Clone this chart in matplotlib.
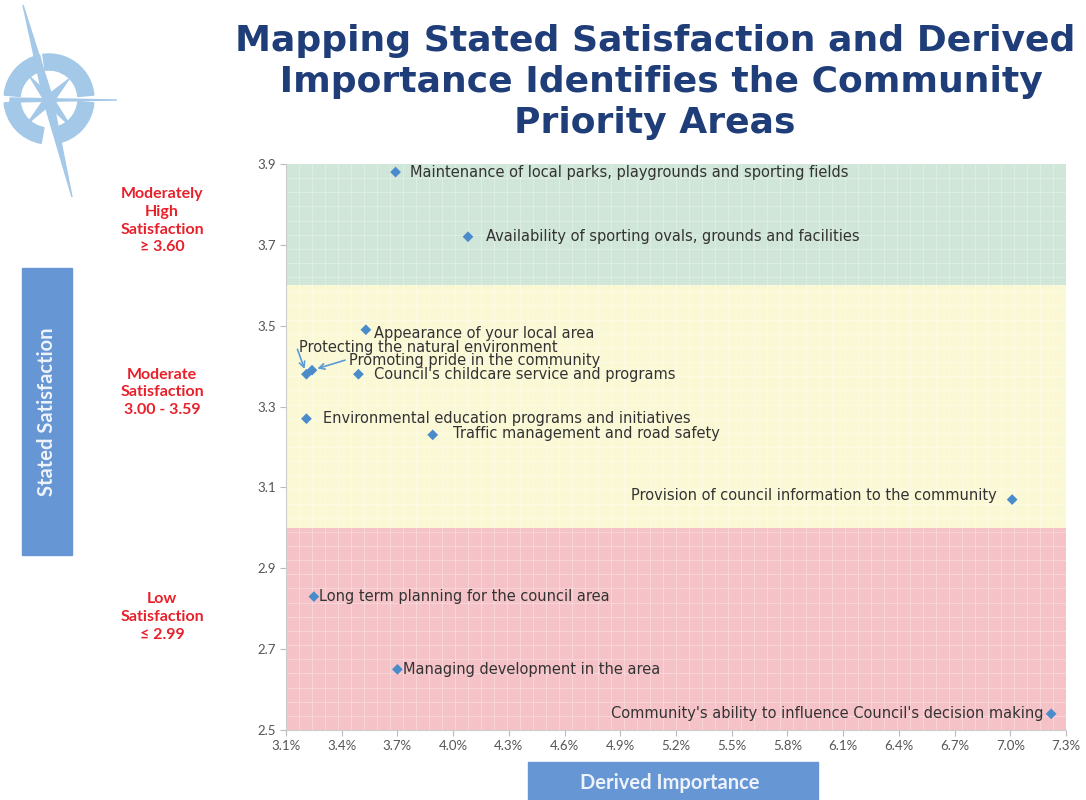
import numpy as np
import matplotlib
matplotlib.use("Agg")
import matplotlib.pyplot as plt
from matplotlib.patches import Rectangle, Wedge, Polygon

# ---- data --------------------------------------------------------------------
labels = [
    "Maintenance of local parks, playgrounds and sporting fields",
    "Availability of sporting ovals, grounds and facilities",
    "Appearance of your local area",
    "Protecting the natural environment",
    "Promoting pride in the community",
    "Council's childcare service and programs",
    "Environmental education programs and initiatives",
    "Traffic management and road safety",
    "Provision of council information to the community",
    "Long term planning for the council area",
    "Managing development in the area",
    "Community's ability to influence Council's decision making",
]
importance   = [3.69, 4.08, 3.53, 3.21, 3.24, 3.49, 3.21, 3.89, 7.01, 3.25, 3.70, 7.22]   # %
satisfaction = [3.88, 3.72, 3.49, 3.38, 3.39, 3.38, 3.27, 3.23, 3.07, 2.83, 2.65, 2.54]

x_ticks = [3.1, 3.4, 3.7, 4.0, 4.3, 4.6, 4.9, 5.2, 5.5, 5.8, 6.1, 6.4, 6.7, 7.0, 7.3]
y_ticks = [2.5, 2.7, 2.9, 3.1, 3.3, 3.5, 3.7, 3.9]

bands = [(3.6, 3.9, "#cfe6d8"), (3.0, 3.6, "#fbf8d6"), (2.5, 3.0, "#f5c3c7")]
band_text = ["Moderately\nHigh\nSatisfaction\n\u2265 3.60",
             "Moderate\nSatisfaction\n3.00 - 3.59",
             "Low\nSatisfaction\n\u2264 2.99"]
band_text_y = [3.76, 3.335, 2.78]

# label placement: (dx, dy in pixels, ha)
place = [(14, 0, "left"), (18, 0, "left"), (8, -4, "left"),
         (-7, 27, "left"), (37, 10, "left"), (16, 0, "left"),
         (17, 0, "left"), (20, 1, "left"), (-15, 4, "right"),
         (5, 0, "left"), (6, 0, "left"), (-8, 0, "right")]
# arrows for the two crowded points: (label index, start dx, dy in pixels)
arrows = [(3, -9, 25), (4, 33, 10)]

LBL = ["DejaVu Sans"]
FONT = ["Lato", "DejaVu Sans"]
NAVY = "#1f3d78"
RED = "#e8202a"
BOXBLUE = "#6696d4"

fig = plt.figure(figsize=(10.86, 8.0), dpi=100)
ax = fig.add_axes([286 / 1086, 1 - 730 / 800, 780 / 1086, 566 / 800])

for lo, hi, c in bands:
    ax.axhspan(lo, hi, color=c, zorder=0, lw=0)
# faint woven texture
for xv in np.arange(3.1, 7.3, 0.07):
    ax.axvline(xv, color="white", lw=0.6, alpha=0.35, zorder=1)
for yv in np.arange(2.5, 3.9, 0.035):
    ax.axhline(yv, color="white", lw=0.6, alpha=0.35, zorder=1)

ax.scatter(importance, satisfaction, marker="D", s=30, color="#4a8bcc",
           edgecolor="none", zorder=4)

for lab, xv, yv, (dx, dy, ha) in zip(labels, importance, satisfaction, place):
    ax.annotate(lab, (xv, yv), xytext=(dx, dy), textcoords="offset pixels",
                ha=ha, va="center", fontsize=10.5, color="#333333", family=LBL,
                zorder=5)
for i, dx, dy in arrows:
    ax.annotate("", (importance[i], satisfaction[i]), xytext=(dx, dy),
                textcoords="offset pixels", zorder=5,
                arrowprops=dict(arrowstyle="->", color="#5b9bd5", lw=1.2,
                                shrinkA=0, shrinkB=4))

ax.set_xlim(3.1, 7.3)
ax.set_ylim(2.5, 3.9)
ax.set_xticks(x_ticks)
ax.set_xticklabels([f"{v:.1f}%" for v in x_ticks])
ax.set_yticks(y_ticks)
ax.set_yticklabels([f"{v:.1f}" for v in y_ticks])
ax.tick_params(colors="#bbbbbb", labelcolor="#555555", labelsize=9.5, length=4)
for t in ax.get_xticklabels() + ax.get_yticklabels():
    t.set_family(FONT)
for s in ["top", "right"]:
    ax.spines[s].set_visible(False)
for s in ["left", "bottom"]:
    ax.spines[s].set_color("#cccccc")

# ---- title -------------------------------------------------------------------
fig.text(0.603, 1 - 82 / 800, "Mapping Stated Satisfaction and Derived\n"
         " Importance Identifies the Community\nPriority Areas",
         ha="center", va="center", fontsize=26, fontweight="bold", color=NAVY,
         family=["DejaVu Sans"], linespacing=1.26)

# ---- band descriptions -------------------------------------------------------
for txt, yv in zip(band_text, band_text_y):
    ax.text(-0.159, yv, txt, transform=ax.get_yaxis_transform(), ha="center",
            va="center", fontsize=11.5, fontweight="bold", color=RED,
            family=FONT, linespacing=1.35)

# ---- axis title boxes --------------------------------------------------------
fig.patches.append(Rectangle((22 / 1086, 1 - 555 / 800), 50 / 1086, 287 / 800,
                             transform=fig.transFigure, color=BOXBLUE, zorder=0))
fig.text(47 / 1086, 1 - 412 / 800, "Stated Satisfaction", rotation=90,
         ha="center", va="center", fontsize=14.5, fontweight="bold",
         color="#eef3fb", family=FONT)
fig.patches.append(Rectangle((528 / 1086, 0), 290 / 1086, 38 / 800,
                             transform=fig.transFigure, color=BOXBLUE, zorder=0))
fig.text(670 / 1086, 1 - 783 / 800, "Derived Importance", ha="center",
         va="center", fontsize=14.5, fontweight="bold", color="#eef3fb", family=FONT)

# ---- compass logo ------------------------------------------------------------
lg = fig.add_axes([0, 1 - 200 / 800, 125 / 1086, 200 / 800])
lg.set_xlim(0, 125)
lg.set_ylim(200, 0)
lg.set_aspect("equal")
lg.axis("off")
logo = "#a3c8e8"
cx, cy = 49, 99
# y axis is inverted, so angles run clockwise on screen
for a1, a2 in [(185, 258), (262, 355), (5, 80), (100, 175)]:
    lg.add_patch(Wedge((cx, cy), 45, a1, a2, width=16, color=logo))
lg.add_patch(Polygon([(23, 5), (52, 96), (72, 197), (44, 102)], color=logo))
lg.add_patch(Polygon([(10, 98), (117, 100), (10, 102)], color=logo))
lg.add_patch(Polygon([(30, 77), (50, 95), (44, 100)], color=logo))
lg.add_patch(Polygon([(69, 79), (48, 95), (54, 101)], color=logo))
lg.add_patch(Polygon([(27, 124), (45, 98), (51, 104)], color=logo))
lg.add_patch(Polygon([(71, 127), (47, 104), (53, 98)], color=logo))

plt.savefig("out.png", dpi=100)
